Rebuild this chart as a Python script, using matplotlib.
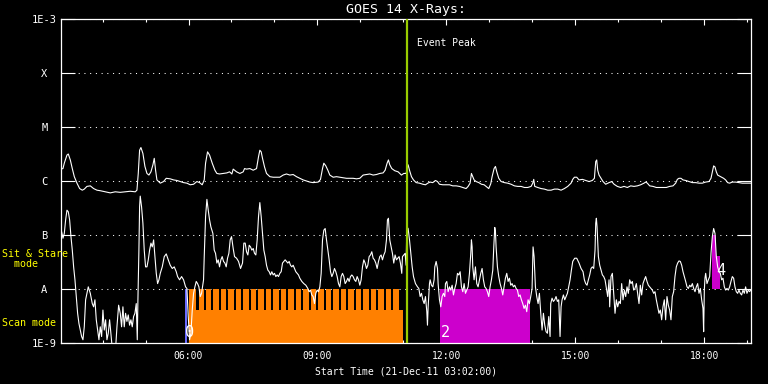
import numpy as np
import matplotlib.pyplot as plt

# GOES 14 X-ray flux, time in hours UT on 21-Dec-2011, flux as log10(W/m^2)
long_t = [3.017, 3.079, 3.110, 3.172, 3.203, 3.250, 3.296, 3.343, 3.405, 3.467, 3.529, 3.575,
          3.637, 3.715, 3.792, 3.870, 3.947, 4.064, 4.180, 4.296, 4.412, 4.529, 4.645, 4.761,
          4.800, 4.831, 4.862, 4.893, 4.939, 4.986, 5.033, 5.079, 5.126, 5.172, 5.203, 5.234,
          5.265, 5.343, 5.420, 5.482, 5.575, 5.653, 5.730, 5.808, 5.885, 5.963, 6.040, 6.118,
          6.195, 6.257, 6.319, 6.366, 6.397, 6.443, 6.490, 6.552, 6.614, 6.660, 6.722, 6.815,
          6.893, 6.955, 7.009,
          7.040, 7.118, 7.195, 7.273, 7.304, 7.350, 7.428, 7.505, 7.583, 7.629, 7.660, 7.691,
          7.722, 7.769, 7.815, 7.893, 7.970, 8.048, 8.125, 8.203, 8.280, 8.358, 8.435, 8.513,
          8.590, 8.668, 8.745, 8.823, 8.900, 9.017, 9.071, 9.118, 9.149, 9.195, 9.242, 9.288,
          9.366, 9.443, 9.521, 9.598, 9.676, 9.753, 9.831, 9.908, 9.986, 10.063, 10.141, 10.218,
          10.296, 10.373, 10.451, 10.528, 10.575, 10.621, 10.652, 10.683, 10.730, 10.800, 10.877,
          10.955, 11.009, 11.063,
          11.110, 11.142, 11.188, 11.235, 11.297, 11.374, 11.452, 11.514, 11.568, 11.622, 11.684,
          11.746, 11.793, 11.839, 11.917, 11.994, 12.072, 12.149, 12.227, 12.304, 12.382, 12.459,
          12.506, 12.552, 12.583, 12.614, 12.645, 12.692, 12.754, 12.816, 12.878, 12.924, 12.986,
          13.033, 13.064, 13.110, 13.142, 13.173, 13.219, 13.273, 13.351, 13.428, 13.506, 13.583,
          13.661, 13.738, 13.816, 13.893, 13.971, 14.010, 14.033, 14.056, 14.126, 14.204, 14.281,
          14.359, 14.436, 14.514, 14.591, 14.669, 14.746, 14.824, 14.901, 14.940, 14.979, 15.033,
          15.087, 15.165, 15.242, 15.320, 15.397, 15.444, 15.475, 15.498, 15.521, 15.552, 15.599,
          15.645, 15.707, 15.785, 15.847, 15.901, 15.978, 16.056, 16.134, 16.211, 16.289, 16.366,
          16.444, 16.521, 16.599, 16.637, 16.676, 16.730, 16.808, 16.885, 16.963, 17.040, 17.118,
          17.195, 17.273, 17.335, 17.374, 17.413, 17.459, 17.506, 17.568, 17.645, 17.723, 17.800,
          17.878, 17.955, 18.033, 18.110, 18.157, 18.188, 18.219, 18.250, 18.281, 18.312, 18.358,
          18.405, 18.451, 18.498, 18.544, 18.591, 18.653, 18.730, 18.808, 18.885, 18.963, 19.040,
          19.079]
long_logf = [-5.78, -5.77, -5.67, -5.52, -5.50, -5.61, -5.77, -5.92, -6.04, -6.14, -6.17, -6.15,
             -6.10, -6.09, -6.14, -6.17, -6.18, -6.20, -6.22, -6.20, -6.21, -6.20, -6.19, -6.20,
             -6.17, -5.86, -5.43, -5.38, -5.49, -5.73, -5.86, -5.89, -5.83, -5.70, -5.58, -5.80,
             -5.98, -6.04, -6.01, -5.95, -5.96, -5.98, -5.99, -6.01, -6.03, -6.04, -6.07, -6.06,
             -6.01, -6.03, -6.07, -5.98, -5.67, -5.46, -5.52, -5.67, -5.80, -5.86, -5.87, -5.86,
             -5.85, -5.83, -5.87,
             -5.78, -5.83, -5.86, -5.83, -5.77, -5.78, -5.77, -5.80, -5.77, -5.55, -5.43, -5.46,
             -5.58, -5.74, -5.86, -5.92, -5.93, -5.93, -5.93, -5.89, -5.87, -5.89, -5.88, -5.92,
             -5.95, -5.98, -6.00, -6.02, -6.03, -6.02, -5.97, -5.77, -5.67, -5.72, -5.80, -5.89,
             -5.93, -5.92, -5.93, -5.94, -5.95, -5.95, -5.95, -5.96, -5.95, -5.89, -5.88, -5.87,
             -5.89, -5.88, -5.86, -5.85, -5.80, -5.67, -5.61, -5.70, -5.77, -5.81, -5.83,
             -5.89, -5.86, -5.86,
             -5.70, -5.80, -5.92, -5.98, -6.03, -6.04, -6.06, -6.07, -6.04, -6.02, -6.03,
             -5.99, -6.01, -6.06, -6.07, -6.07, -6.07, -6.09, -6.09, -6.10, -6.12, -6.14,
             -6.10, -6.04, -5.86, -5.92, -5.98, -6.01, -6.03, -6.06, -6.07, -6.10, -6.14,
             -6.05, -5.92, -5.77, -5.73, -5.83, -5.95, -6.01, -6.03, -6.04, -6.06, -6.09,
             -6.10, -6.10, -6.12, -6.12, -6.10, -6.04, -5.97, -6.10, -6.12, -6.14, -6.15,
             -6.17, -6.17, -6.15, -6.15, -6.17, -6.14, -6.10, -6.04, -5.97, -5.93, -5.93,
             -5.98, -5.97, -5.99, -6.01, -5.99, -5.95, -5.64, -5.61, -5.80, -5.89, -5.95,
             -6.01, -6.06, -6.03, -6.01, -6.06, -6.10, -6.12, -6.10, -6.12, -6.09, -6.10,
             -6.09, -6.07, -6.04, -6.02, -6.04, -6.09, -6.10, -6.12, -6.12, -6.12, -6.12,
             -6.10, -6.09, -6.04, -5.97, -5.95, -5.95, -5.98, -5.99, -6.01, -6.03, -6.03,
             -6.04, -6.04, -6.02, -6.01, -5.95, -5.83, -5.72, -5.74, -5.83, -5.89, -5.91,
             -5.93, -5.95, -5.98, -6.03, -6.04, -6.02, -6.02, -6.03, -6.04, -6.04, -6.04,
             -6.04]

short_t = [3.017, 3.048, 3.079, 3.110, 3.141, 3.172, 3.203, 3.234, 3.265, 3.296, 3.327, 3.358,
           3.389, 3.420, 3.451, 3.482, 3.513, 3.544, 3.575, 3.606, 3.637, 3.668, 3.715, 3.761,
           3.792, 3.823, 3.854, 3.885, 3.916, 3.947, 3.978, 4.009, 4.040, 4.071, 4.102, 4.133,
           4.164, 4.180, 4.226, 4.257, 4.304, 4.335, 4.374, 4.412, 4.443, 4.474, 4.505, 4.536,
           4.567, 4.598, 4.629, 4.660, 4.691, 4.722, 4.753, 4.784, 4.808, 4.823, 4.846, 4.862,
           4.877, 4.908, 4.939, 4.970, 5.001, 5.033, 5.064, 5.095, 5.126, 5.157, 5.188, 5.219,
           5.250, 5.281, 5.312, 5.343, 5.389, 5.436, 5.482, 5.529, 5.575, 5.622, 5.668, 5.715,
           5.746, 5.792, 5.839, 5.885, 5.932, 5.963, 5.994, 6.025, 6.056, 6.087, 6.118, 6.149,
           6.180, 6.211, 6.242, 6.273, 6.304, 6.350, 6.366, 6.397, 6.428, 6.459, 6.490, 6.521,
           6.567, 6.598, 6.629, 6.660, 6.691, 6.722, 6.753, 6.784, 6.815, 6.846, 6.877, 6.908,
           6.939, 6.970, 7.001,
           7.040, 7.071, 7.118, 7.164, 7.211, 7.257, 7.288, 7.319, 7.350, 7.381, 7.412, 7.443,
           7.474, 7.505, 7.536, 7.567, 7.598, 7.629, 7.660, 7.691, 7.722, 7.753, 7.784, 7.815,
           7.846, 7.877, 7.908, 7.939, 7.970, 8.001, 8.032, 8.063, 8.094, 8.125, 8.156, 8.187,
           8.218, 8.249, 8.280, 8.311, 8.342, 8.373, 8.404, 8.435, 8.466, 8.497, 8.528, 8.559,
           8.590, 8.637, 8.683, 8.730, 8.776, 8.807, 8.838, 8.869, 8.900, 8.931, 8.962, 8.993,
           9.024, 9.056, 9.087, 9.118, 9.149, 9.180, 9.211, 9.242, 9.273, 9.304, 9.335, 9.366,
           9.397, 9.428, 9.459, 9.490, 9.521, 9.552, 9.583, 9.614, 9.645, 9.676, 9.707, 9.738,
           9.769, 9.800, 9.831, 9.862, 9.893, 9.924, 9.955, 9.986, 10.017, 10.048, 10.079, 10.110,
           10.141, 10.172, 10.203, 10.234, 10.265, 10.296, 10.327, 10.358, 10.389, 10.420, 10.451,
           10.482, 10.513, 10.544, 10.575, 10.606, 10.629, 10.652, 10.668, 10.683, 10.714, 10.745,
           10.776, 10.807, 10.838, 10.869, 10.900, 10.931, 10.962, 10.978, 11.009, 11.040, 11.063,
           11.080,
           11.110, 11.142, 11.173, 11.204, 11.235, 11.281, 11.328, 11.359, 11.390, 11.421, 11.452,
           11.483, 11.514, 11.545, 11.560, 11.576, 11.607, 11.622, 11.653, 11.684, 11.715, 11.731,
           11.762, 11.793, 11.808, 11.839, 11.870, 11.901, 11.932, 11.963, 11.979, 12.010, 12.041,
           12.072, 12.103, 12.134, 12.165, 12.196, 12.227, 12.258, 12.289, 12.320, 12.351, 12.382,
           12.413, 12.444, 12.475, 12.506, 12.537, 12.568, 12.583, 12.599, 12.614, 12.645, 12.676,
           12.707, 12.738, 12.769, 12.800, 12.831, 12.862, 12.893, 12.924, 12.955, 12.986, 13.017,
           13.048, 13.080, 13.103, 13.126, 13.142, 13.157, 13.188, 13.219, 13.250, 13.281, 13.312,
           13.343, 13.374, 13.405, 13.436, 13.467, 13.498, 13.529, 13.560, 13.591, 13.622, 13.653,
           13.684, 13.715, 13.746, 13.777, 13.808, 13.839, 13.870, 13.901, 13.932, 13.963, 13.994,
           14.017, 14.041, 14.072, 14.103, 14.134, 14.165, 14.196, 14.227, 14.258, 14.289, 14.320,
           14.351, 14.382, 14.413, 14.428, 14.459, 14.490, 14.521, 14.552, 14.583, 14.614, 14.645,
           14.669, 14.692, 14.723, 14.754, 14.785, 14.816, 14.847, 14.878, 14.909, 14.940, 14.986,
           15.033, 15.087,
           15.134, 15.180, 15.211, 15.242, 15.273, 15.304, 15.335, 15.366, 15.397, 15.428, 15.459,
           15.475, 15.490, 15.506, 15.537, 15.568, 15.599, 15.630, 15.661, 15.692, 15.723, 15.754,
           15.785, 15.800, 15.831, 15.862, 15.893, 15.924, 15.955, 15.986, 16.017, 16.048, 16.079,
           16.110, 16.141, 16.172, 16.203, 16.234, 16.265, 16.296, 16.327, 16.358, 16.389, 16.420,
           16.451, 16.482, 16.513, 16.544, 16.575, 16.606, 16.637, 16.668, 16.699, 16.730, 16.761,
           16.792, 16.823, 16.854, 16.885, 16.916, 16.947, 16.978, 17.009, 17.040, 17.071, 17.102,
           17.133, 17.164, 17.195, 17.226, 17.257, 17.288, 17.319, 17.350, 17.381, 17.413, 17.444,
           17.475, 17.506, 17.537, 17.568, 17.599, 17.630, 17.661, 17.692, 17.723, 17.754, 17.785,
           17.816, 17.847, 17.878, 17.909, 17.940, 17.971, 17.986, 18.002, 18.017, 18.033, 18.064,
           18.095, 18.126, 18.157, 18.188, 18.219, 18.250, 18.281, 18.312, 18.343, 18.374, 18.405,
           18.436, 18.467, 18.498, 18.529, 18.560, 18.591, 18.622, 18.653, 18.684, 18.715, 18.746,
           18.777, 18.808, 18.839, 18.870, 18.901, 18.932, 18.963, 18.994, 19.025, 19.056, 19.079]
short_logf = [-7.00, -6.94, -7.06, -6.97, -6.72, -6.54, -6.57, -6.72, -7.03, -7.28, -7.59, -7.83,
              -8.14, -8.45, -8.64, -8.76, -8.88, -8.94, -8.70, -8.20, -8.08, -7.96, -8.08, -8.27,
              -8.33, -8.20, -8.57, -8.76, -8.94, -8.70, -8.88, -8.39, -8.76, -8.57, -8.94, -8.82,
              -8.57, -8.70, -9.10, -9.10, -9.10, -8.70, -8.30, -8.45, -8.70, -8.33, -8.70, -8.45,
              -8.60, -8.48, -8.67, -8.57, -8.70, -8.51, -8.45, -8.27, -8.94, -8.20, -7.28, -6.48,
              -6.28, -6.48, -6.78, -7.28, -7.59, -7.59, -7.46, -7.28, -7.15, -7.22, -7.09, -7.40,
              -7.71, -7.90, -7.83, -7.71, -7.59, -7.40, -7.35, -7.46, -7.56, -7.62, -7.59, -7.68,
              -7.77, -7.83, -7.77, -7.83, -7.96, -7.99, -8.51, -8.94, -8.82, -8.39, -8.08, -7.96,
              -7.86, -7.90, -7.96, -8.14, -8.08, -7.83, -7.40, -6.66, -6.34, -6.54, -6.72, -6.85,
              -6.97, -7.28, -7.34, -7.52, -7.46, -7.59, -7.46, -7.40, -7.49, -7.52, -7.59, -7.43,
              -7.34, -7.09, -7.03,
              -7.25, -7.40, -7.43, -7.49, -7.62, -7.52, -7.15, -7.15, -7.31, -7.37, -7.19, -7.22,
              -7.28, -7.25, -7.34, -7.37, -7.09, -6.66, -6.40, -6.66, -6.97, -7.28, -7.40, -7.56,
              -7.65, -7.68, -7.74, -7.68, -7.74, -7.71, -7.77, -7.74, -7.77, -7.71, -7.68, -7.52,
              -7.49, -7.46, -7.49, -7.52, -7.49, -7.56, -7.59, -7.56, -7.62, -7.68, -7.71, -7.74,
              -7.80, -7.86, -7.90, -7.93, -7.99, -8.05, -8.02, -8.11, -8.14, -8.27, -8.08, -8.02,
              -8.05, -7.96, -7.71, -7.09, -6.91, -6.88, -7.09, -7.28, -7.46, -7.68, -7.77, -7.71,
              -7.62, -7.68, -7.77, -7.90, -7.96, -7.77, -7.71, -7.77, -7.90, -7.86, -7.80, -7.86,
              -7.77, -7.74, -7.77, -7.83, -7.86, -7.77, -7.83, -7.93, -7.83, -7.59, -7.46, -7.52,
              -7.62, -7.56, -7.40, -7.37, -7.31, -7.43, -7.46, -7.52, -7.62, -7.49, -7.40,
              -7.37, -7.46, -7.37, -7.31, -7.09, -6.72, -6.69, -6.91, -7.09, -7.22, -7.34,
              -7.52, -7.37, -7.46, -7.43, -7.40, -7.52, -7.71, -7.40, -7.37, -7.34, -7.56,
              -6.85,
              -6.88, -7.09, -7.34, -7.59, -7.77, -7.90, -7.96, -7.99, -8.14, -8.08, -8.20,
              -8.27, -8.14, -8.42, -8.67, -8.33, -7.90, -7.83, -7.93, -7.96, -7.83, -7.59,
              -7.49, -7.62, -7.90, -8.20, -8.33, -8.14, -8.08, -8.14, -7.90, -7.86, -8.05,
              -7.96, -8.02, -7.93, -8.11, -7.99, -7.90, -7.71, -7.74, -7.68, -7.96, -8.05,
              -7.90, -8.08, -8.02, -7.96, -7.71, -7.34, -7.09, -7.22, -7.59, -7.83, -7.59,
              -7.90, -7.96, -7.83, -7.71, -7.62, -7.83, -7.96, -7.99, -8.05, -8.14, -7.96,
              -7.83, -7.65, -7.22, -6.86, -6.94, -7.22, -7.59, -7.77, -7.90, -7.99, -8.11,
              -7.96, -7.80, -7.71, -7.86, -7.80, -7.93, -7.90, -7.96, -7.93, -7.99, -8.02,
              -8.14, -8.11, -8.20, -8.27, -8.36, -8.30, -8.42, -8.20, -8.27, -8.14, -7.99,
              -7.22, -7.40, -7.96, -8.14, -8.27, -8.08, -8.45, -8.76, -8.45, -8.67, -8.79,
              -8.82, -8.51, -8.88, -8.27, -8.17, -8.23, -8.20, -8.14, -8.23, -8.20, -8.88,
              -8.33, -8.20, -8.11, -8.20, -8.14, -8.08, -7.96, -7.83, -7.65, -7.49, -7.43,
              -7.43, -7.52,
              -7.62, -7.68, -7.83, -7.90, -7.93, -7.83, -7.74, -7.62, -7.59, -7.62, -7.28,
              -6.78, -6.69, -6.85, -7.40, -7.56, -7.65, -7.74, -7.77, -7.83, -7.99, -8.14,
              -7.83, -8.33, -7.77, -7.71, -8.08, -8.45, -8.20, -8.33, -8.23, -8.27, -7.90,
              -8.20, -8.02, -8.14, -7.96, -8.08, -7.83, -7.90, -7.86, -8.02, -7.99, -7.90,
              -8.08, -8.27, -7.93, -8.11, -7.90, -7.83, -7.77, -7.86, -7.93, -7.96, -7.99,
              -8.02, -8.08, -8.05, -8.20, -8.33, -8.45, -8.39, -8.57, -8.33, -8.20, -8.57,
              -8.14, -8.30, -8.39, -8.57, -8.14, -8.05, -7.77, -7.59, -7.52, -7.48, -7.49,
              -7.56, -7.68, -7.77, -7.86, -7.96, -7.99, -7.93, -7.96, -7.90, -7.99, -8.05,
              -7.96, -7.90, -8.08, -7.99, -8.20, -8.36, -8.79, -8.02, -7.80, -7.71, -7.90,
              -7.83, -7.77, -7.34, -7.03, -6.88, -6.97, -7.40, -7.59, -7.68, -7.71, -7.83,
              -7.80, -7.96, -8.02, -7.99, -8.02, -7.96, -7.86, -7.77, -7.80, -7.96, -8.05,
              -8.08, -8.02, -8.08, -8.11, -8.02, -8.08, -7.96, -8.08, -8.02, -8.05, -8.02]

# observation blocks (hours UT)
stare0_start, stare0_end = 5.924, 5.970
scan_start, scan_end = 6.000, 10.987
raster_starts = [6.000, 6.054, 6.233, 6.407, 6.581, 6.756, 6.930, 7.104, 7.279, 7.453, 7.627,
                 7.802, 7.976, 8.150, 8.325, 8.499, 8.673, 8.848, 9.022, 9.196, 9.371, 9.545,
                 9.719, 9.894, 10.068, 10.242, 10.417, 10.591, 10.765]
raster_len = 0.125
scan2_start, scan2_end = 11.854, 13.947
stare4_t = [18.187, 18.280]
stare4_top = [-7.0, -7.39]
stare4_len = 0.093
event_peak = 11.075

obs_labels = ['0', '2', '4']
obs_label_t = [5.924, 11.875, 18.28]
obs_label_logf = [-8.8, -8.8, -7.65]

ytick_vals = [-9, -8, -7, -6, -5, -4, -3]
ytick_text = ['1E-9', 'A', 'B', 'C', 'M', 'X', '1E-3']
xtick_hours = [6, 9, 12, 15, 18]
xtick_text = ['06:00', '09:00', '12:00', '15:00', '18:00']

mono = 'DejaVu Sans Mono'
plt.rcParams['font.family'] = mono

fig = plt.figure(figsize=(7.68, 3.84), dpi=100, facecolor='black')
ax = fig.add_axes([61 / 768, 41 / 384, 690 / 768, 324 / 384], facecolor='black')
ax.set_yscale('log')
ax.set_xlim(3.0333, 19.088)
ax.set_ylim(1e-9, 1e-3)

# observation blocks
ax.bar(stare0_start, 1e-8 - 1e-9, bottom=1e-9, width=stare0_end - stare0_start,
       align='edge', color='#6a6aff', linewidth=0, zorder=2)
ax.bar(scan_start, 10**-8.39 - 1e-9, bottom=1e-9, width=scan_end - scan_start,
       align='edge', color='#ff8000', linewidth=0, zorder=2)
ax.bar(raster_starts, 1e-8 - 1e-9, bottom=1e-9, width=raster_len,
       align='edge', color='#ff8000', linewidth=0, zorder=2)
ax.bar(scan2_start, 1e-8 - 1e-9, bottom=1e-9, width=scan2_end - scan2_start,
       align='edge', color='#cc00cc', linewidth=0, zorder=2)
ax.bar(stare4_t, 10**np.array(stare4_top) - 1e-8, bottom=1e-8, width=stare4_len,
       align='edge', color='#cc00cc', linewidth=0, zorder=2)

ax.axvline(event_peak, color='#99cc00', lw=1.6, zorder=4)
ax.text(event_peak + 0.24, 10**-3.44, 'Event Peak', color='white', fontsize=7,
        va='center', ha='left', zorder=5)

ax.plot(long_t, 10**np.array(long_logf), color='white', lw=0.8, zorder=3)
ax.plot(short_t, 10**np.array(short_logf), color='white', lw=0.8, zorder=3)

for lab, t, lf in zip(obs_labels, obs_label_t, obs_label_logf):
    ax.text(t, 10**lf, lab, color='white', fontsize=11, ha='left', va='center', zorder=6)

# axes styling
ax.set_yticks([10.0**v for v in ytick_vals])
ax.set_yticklabels(ytick_text)
ax.yaxis.set_minor_locator(plt.NullLocator())
ax.set_xticks(xtick_hours)
ax.set_xticklabels(xtick_text)
ax.set_xticks(np.arange(4, 20), minor=True)
ax.tick_params(axis='y', which='major', direction='in', length=10, width=0.8,
               colors='white', left=True, right=True, pad=12, labelsize=7.5)
for lab in ax.get_yticklabels():
    lab.set_horizontalalignment('center')
ax.tick_params(axis='x', which='major', direction='in', length=4.3, width=0.8,
               colors='white', top=True, bottom=True, pad=6, labelsize=7)
ax.tick_params(axis='x', which='minor', direction='in', length=2.2, width=0.8,
               colors='white', top=True, bottom=True)
for s in ax.spines.values():
    s.set_color('white')
    s.set_linewidth(0.9)
ax.grid(axis='y', which='major', color='white', linestyle=(0, (1, 4.5)), lw=0.75)

ax.set_title('GOES 14 X-Rays:', color='white', fontsize=9.5, pad=4)
ax.set_xlabel('Start Time (21-Dec-11 03:02:00)', color='white', fontsize=7, labelpad=4)

fig.text(2 / 768, 1 - 259 / 384, 'Sit & Stare\n  mode', color='yellow', fontsize=7.2,
         ha='left', va='center', linespacing=1.05)
fig.text(2 / 768, 1 - 323 / 384, 'Scan mode', color='yellow', fontsize=7.2,
         ha='left', va='center')

fig.savefig('out.png', dpi=100, facecolor='black')
